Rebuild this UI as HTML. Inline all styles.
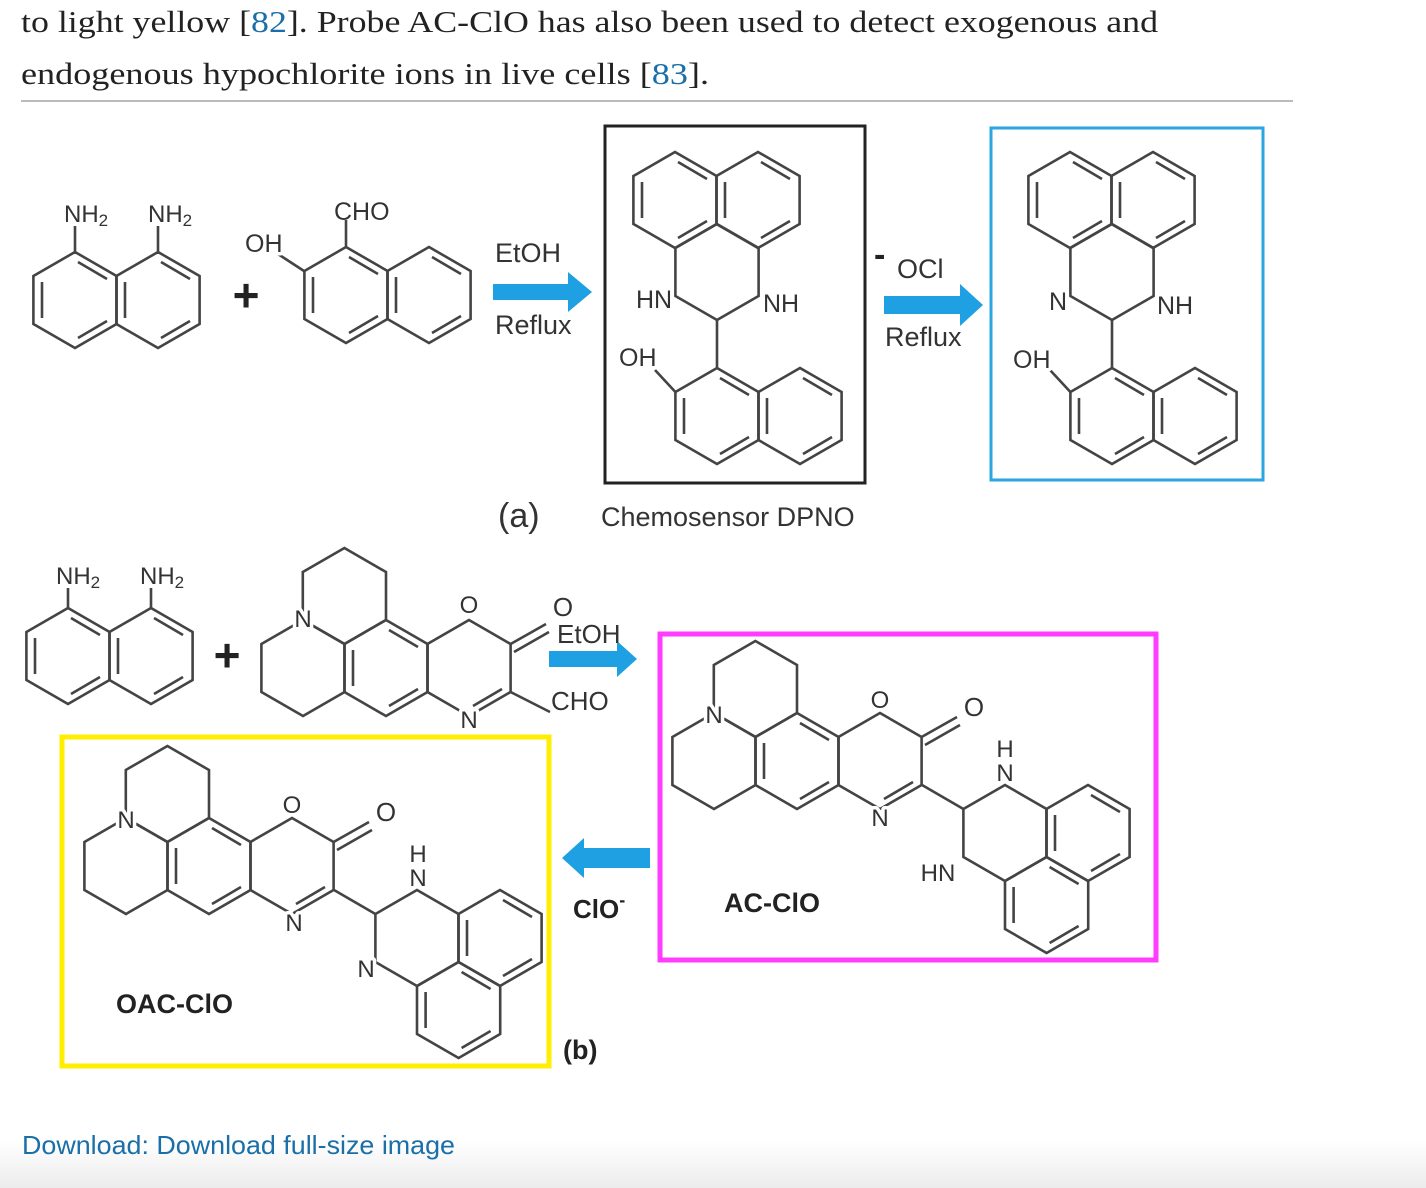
<!DOCTYPE html>
<html><head><meta charset="utf-8"><style>
html,body{margin:0;padding:0;background:#fff;}
svg{display:block;}
.t{font-family:"Liberation Sans",sans-serif;font-size:24px;fill:#333;}
.lb{font-family:"Liberation Sans",sans-serif;font-size:24px;fill:#333;paint-order:stroke;stroke:#fff;stroke-width:7px;stroke-linejoin:round;}
.b{font-weight:bold;fill:#222;}
</style></head><body>
<svg width="1426" height="1188" viewBox="0 0 1426 1188" xmlns="http://www.w3.org/2000/svg">
<defs>
<linearGradient id="bg" x1="0" y1="0" x2="0" y2="1"><stop offset="0" stop-color="#fff"/><stop offset="1" stop-color="#ececec"/></linearGradient>
<g id="ar" fill="none" stroke="#444" stroke-width="2.6">
<polygon points="0,-48 41.6,-24 41.6,24 0,48 -41.6,24 -41.6,-24"/>
<line x1="3" y1="-38" x2="32" y2="-21"/><line x1="32" y1="21" x2="3" y2="38"/><line x1="-33" y1="18" x2="-33" y2="-18"/>
</g>
<g id="sat" fill="none" stroke="#444" stroke-width="2.6">
<polygon points="0,-48 41.6,-24 41.6,24 0,48 -41.6,24 -41.6,-24"/>
</g>
<g id="core">
<use href="#ar" x="0" y="0"/>
<use href="#sat" x="-41.6" y="-72"/>
<use href="#sat" x="-83" y="0"/>
<use href="#sat" x="83" y="0"/>
<line x1="116" y1="21" x2="87" y2="38" stroke="#444" stroke-width="2.6"/>
<line x1="124.6" y1="-24" x2="160" y2="-44" stroke="#444" stroke-width="2.6"/>
<line x1="128" y1="-16" x2="163" y2="-36" stroke="#444" stroke-width="2.6"/>
</g>
<g id="peri">
<use href="#sat" x="0" y="0"/>
<use href="#ar" x="83" y="0"/>
<use href="#ar" x="41.6" y="72"/>
<line x1="-41.6" y1="-24" x2="-83" y2="-48" stroke="#444" stroke-width="2.6"/>
</g>
<g id="dpno">
<use href="#ar" x="-42" y="-72"/>
<use href="#ar" x="41" y="-72"/>
<use href="#sat" x="0" y="0"/>
<line x1="0" y1="48" x2="0" y2="96" stroke="#444" stroke-width="2.6"/>
<use href="#ar" x="0" y="144"/>
<use href="#ar" x="83" y="144"/>
<line x1="-41.6" y1="120" x2="-62" y2="98" stroke="#444" stroke-width="2.6"/>
</g>
</defs>
<rect x="0" y="1140" width="1426" height="48" fill="url(#bg)"/>
<text x="21" y="32" font-family="Liberation Serif, serif" font-size="31" fill="#222" textLength="1137" lengthAdjust="spacingAndGlyphs">to light yellow [<tspan fill="#1a6fa8">82</tspan>]. Probe AC-ClO has also been used to detect exogenous and</text>
<text x="21" y="84" font-family="Liberation Serif, serif" font-size="31" fill="#222" textLength="688" lengthAdjust="spacingAndGlyphs">endogenous hypochlorite ions in live cells [<tspan fill="#1a6fa8">83</tspan>].</text>
<line x1="21" y1="101" x2="1293" y2="101" stroke="#bbb" stroke-width="2"/>

<!-- part a -->
<use href="#ar" x="75" y="300"/><use href="#ar" x="158" y="300"/>
<line x1="75" y1="252" x2="75" y2="226" stroke="#444" stroke-width="2.6"/>
<line x1="158" y1="252" x2="158" y2="226" stroke="#444" stroke-width="2.6"/>
<text class="t" x="64" y="222">NH<tspan style="font-size:17px" dy="4">2</tspan></text>
<text class="t" x="148" y="222">NH<tspan style="font-size:17px" dy="4">2</tspan></text>
<text class="t b" x="246" y="311" text-anchor="middle" style="font-size:46px">+</text>
<use href="#ar" x="346" y="295"/><use href="#ar" x="429" y="295"/>
<line x1="346" y1="247" x2="346" y2="220" stroke="#444" stroke-width="2.6"/>
<line x1="304" y1="271" x2="278" y2="254" stroke="#444" stroke-width="2.6"/>
<text class="t" x="334" y="220" style="font-size:25px">CHO</text>
<text class="lb" x="245" y="252" style="font-size:25px">OH</text>
<path d="M493,284 H568 V272 L592,292 L568,312 V300 H493 Z" fill="#1ea0e2"/>
<text class="t" x="495" y="262" style="font-size:27px">EtOH</text>
<text class="t" x="495" y="334" style="font-size:27px">Reflux</text>
<rect x="605" y="126" width="260" height="357" fill="none" stroke="#222" stroke-width="3"/>
<use href="#dpno" x="717" y="272"/>
<text class="lb" x="636" y="308" style="font-size:25px">HN</text>
<text class="lb" x="763" y="312" style="font-size:25px">NH</text>
<text class="lb" x="619" y="366" style="font-size:25px">OH</text>
<text class="t b" x="874" y="266" style="font-size:34px">-</text>
<text class="t" x="897" y="278" style="font-size:27px">OCl</text>
<path d="M884,296 H960 V284 L983,305 L960,326 V314 H884 Z" fill="#1ea0e2"/>
<text class="t" x="885" y="346" style="font-size:27px">Reflux</text>
<rect x="991" y="128" width="272" height="352" fill="none" stroke="#2aa6e0" stroke-width="3"/>
<use href="#dpno" x="1112" y="272"/>
<text class="lb" x="1049" y="310" style="font-size:25px">N</text>
<text class="lb" x="1157" y="314" style="font-size:25px">NH</text>
<text class="lb" x="1013" y="368" style="font-size:25px">OH</text>
<text class="t" x="498" y="527" style="font-size:34px">(a)</text>
<text class="t" x="601" y="526" style="font-size:27px">Chemosensor DPNO</text>

<!-- part b -->
<use href="#ar" x="68" y="656"/><use href="#ar" x="151" y="656"/>
<line x1="68" y1="608" x2="68" y2="588" stroke="#444" stroke-width="2.6"/>
<line x1="151" y1="608" x2="151" y2="588" stroke="#444" stroke-width="2.6"/>
<text class="t" x="56" y="584">NH<tspan style="font-size:17px" dy="4">2</tspan></text>
<text class="t" x="140" y="584">NH<tspan style="font-size:17px" dy="4">2</tspan></text>
<text class="t b" x="227" y="671" text-anchor="middle" style="font-size:46px">+</text>
<use href="#core" x="386" y="668"/>
<line x1="510.6" y1="692" x2="550" y2="712" stroke="#444" stroke-width="2.6"/>
<text class="lb" x="303" y="627" text-anchor="middle">N</text>
<text class="lb" x="469" y="613" text-anchor="middle">O</text>
<text class="lb" x="469" y="728" text-anchor="middle">N</text>
<text class="t" x="563" y="616" text-anchor="middle" style="font-size:26px">O</text>
<text class="t" x="551" y="710" style="font-size:26px">CHO</text>
<path d="M549,651 H617 V641 L637,659 L617,677 V667 H549 Z" fill="#1ea0e2"/>
<text class="t" x="557" y="643" style="font-size:26px">EtOH</text>
<rect x="660" y="634" width="496" height="326" fill="none" stroke="#ff3cff" stroke-width="5"/>
<use href="#core" x="797" y="761"/>
<use href="#peri" x="1005" y="833"/>
<text class="lb" x="714" y="723" text-anchor="middle">N</text>
<text class="lb" x="880" y="708" text-anchor="middle">O</text>
<text class="lb" x="880" y="826" text-anchor="middle">N</text>
<text class="t" x="974" y="716" text-anchor="middle" style="font-size:26px">O</text>
<text class="lb" x="1005" y="757" text-anchor="middle">H</text>
<text class="lb" x="1005" y="781" text-anchor="middle">N</text>
<text class="lb" x="938" y="881" text-anchor="middle">HN</text>
<text class="t b" x="724" y="912" style="font-size:27px">AC-ClO</text>
<path d="M650,848 H584 V838 L562,858 L584,878 V868 H650 Z" fill="#1ea0e2"/>
<text class="t b" x="573" y="918" style="font-size:26px">ClO<tspan style="font-size:18px" dy="-12">-</tspan></text>
<rect x="62" y="737" width="487" height="329" fill="none" stroke="#ffee00" stroke-width="5"/>
<use href="#core" x="209" y="866"/>
<use href="#peri" x="417" y="938"/>
<text class="lb" x="126" y="828" text-anchor="middle">N</text>
<text class="lb" x="292" y="813" text-anchor="middle">O</text>
<text class="lb" x="294" y="931" text-anchor="middle">N</text>
<text class="t" x="386" y="821" text-anchor="middle" style="font-size:26px">O</text>
<text class="lb" x="418" y="862" text-anchor="middle">H</text>
<text class="lb" x="418" y="886" text-anchor="middle">N</text>
<text class="lb" x="366" y="977" text-anchor="middle">N</text>
<text class="t b" x="116" y="1013" style="font-size:27px">OAC-ClO</text>
<text class="t b" x="563" y="1059" style="font-size:27px">(b)</text>

<text x="22" y="1154" font-family="Liberation Sans, sans-serif" font-size="26" fill="#1a6fa8" textLength="433" lengthAdjust="spacingAndGlyphs">Download: Download full-size image</text>
</svg>
</body></html>
